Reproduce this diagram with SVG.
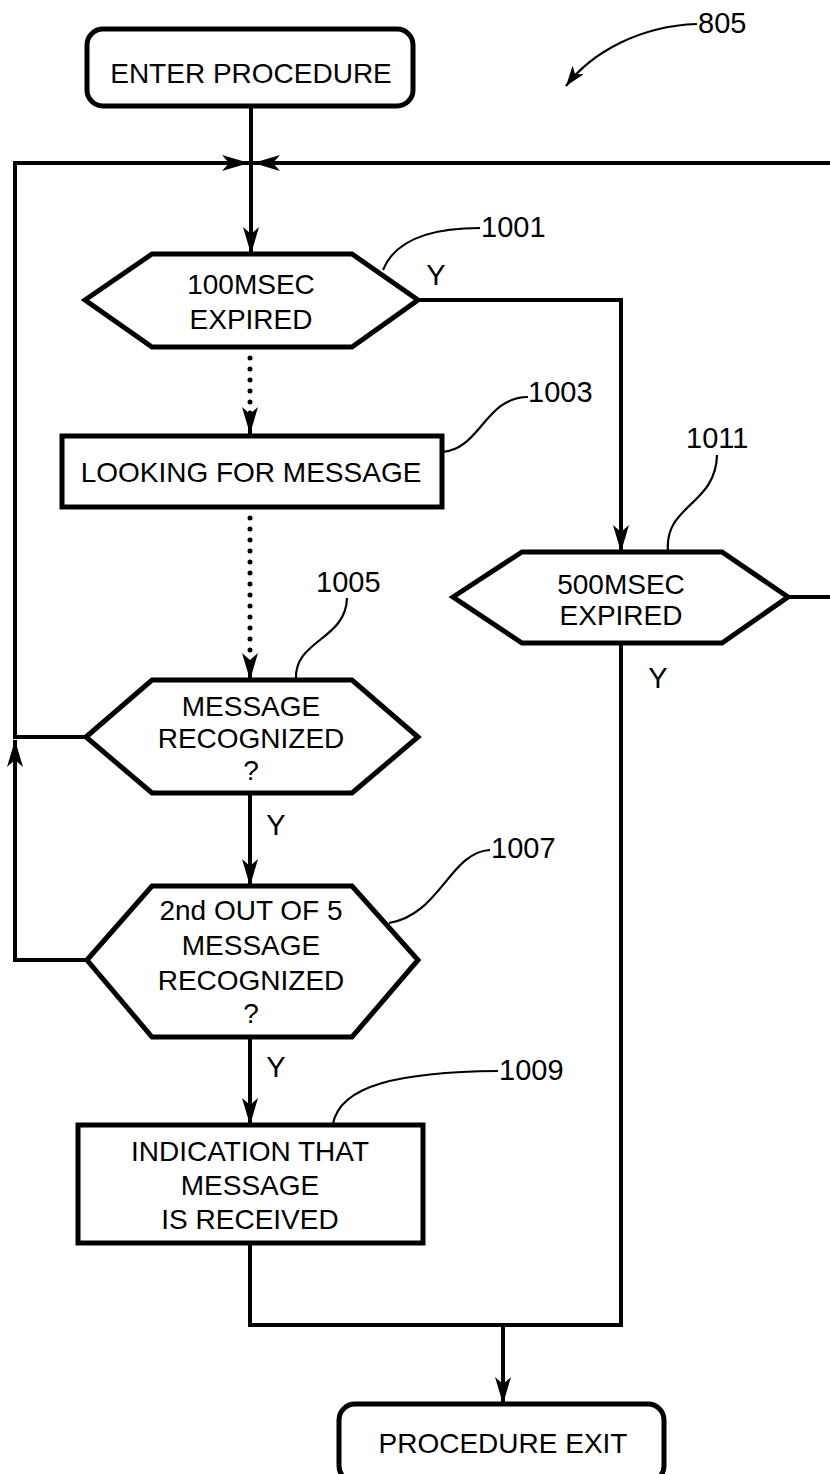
<svg xmlns="http://www.w3.org/2000/svg" width="830" height="1474" viewBox="0 0 830 1474">
<defs>
<style>
.shape{fill:#fff;stroke:#000;stroke-width:5;stroke-linejoin:miter}
.line{fill:none;stroke:#000;stroke-width:4}
.dot{fill:none;stroke:#000;stroke-width:5;stroke-linecap:round;stroke-dasharray:0 11}
.lead{fill:none;stroke:#000;stroke-width:2.2}
.t{font-family:"Liberation Sans",Arial,sans-serif;font-size:28px;fill:#000;text-anchor:middle}
.lbl{font-family:"Liberation Sans",Arial,sans-serif;font-size:29px;fill:#000}
</style>
<marker id="arr" markerUnits="userSpaceOnUse" markerWidth="30" markerHeight="18" viewBox="-28 -9 30 18" refX="0" refY="0" orient="auto">
<path d="M0,0 L-27,-8 L-20,0 L-27,8 Z" fill="#000"/>
</marker>
<marker id="arr2" markerUnits="userSpaceOnUse" markerWidth="24" markerHeight="18" viewBox="-22 -9 24 18" refX="0" refY="0" orient="auto">
<path d="M0,0 L-20,-7 L-15,0 L-20,7 Z" fill="#000"/>
</marker>
</defs>

<g id="connectors">
<path class="line" d="M251,106 L251,254" marker-end="url(#arr)"/>
<path class="line" d="M86,737 L15,737 L15,163 L249,163" marker-end="url(#arr)"/>
<path class="line" d="M788,597 L845,597 L845,163 L253,163" marker-end="url(#arr)"/>
<path class="line" d="M87,960 L15,960 L15,740" marker-end="url(#arr)"/>
<path class="line" d="M418,300 L621,300 L621,552" marker-end="url(#arr)"/>
<path class="dot" d="M250,358 L250,414"/>
<path class="line" d="M250,414 L250,434" marker-end="url(#arr)" stroke-width="0.1"/>
<path class="dot" d="M250,518 L250,660"/>
<path class="line" d="M250,660 L250,680" marker-end="url(#arr)" stroke-width="0.1"/>
<path class="line" d="M250,793 L250,886" marker-end="url(#arr)"/>
<path class="line" d="M250,1037 L250,1125" marker-end="url(#arr)"/>
<path class="line" d="M621,643 L621,1325 L503,1325"/>
<path class="line" d="M250,1243 L250,1325 L503,1325"/>
<path class="line" d="M503,1325 L503,1404" marker-end="url(#arr)"/>
</g>

<g id="ref805">
<path class="lead" d="M697,24 C640,26 592,52 566,86" marker-end="url(#arr2)"/>
<text class="lbl" x="698" y="33">805</text>
</g>

<g id="enter">
<rect class="shape" x="87" y="29" width="326" height="77" rx="16"/>
<text class="t" x="251" y="83">ENTER PROCEDURE</text>
</g>

<g id="n1001">
<polygon class="shape" points="85,300 152,254 352,254 418,300 352,347 152,347"/>
<text class="t" x="251" y="294">100MSEC</text>
<text class="t" x="251" y="329">EXPIRED</text>
<path class="lead" d="M383,270 C395,240 430,228 480,228"/>
<text class="lbl" x="481" y="237">1001</text>
<text class="lbl" x="436" y="285" text-anchor="middle">Y</text>
</g>

<g id="n1003">
<rect class="shape" x="62" y="436" width="380" height="71"/>
<text class="t" x="251" y="482">LOOKING FOR MESSAGE</text>
<path class="lead" d="M442,452 C480,450 485,397 528,397"/>
<text class="lbl" x="528" y="402">1003</text>
</g>

<g id="n1011">
<polygon class="shape" points="453,597 522,552 722,552 788,597 722,643 522,643"/>
<text class="t" x="621" y="594">500MSEC</text>
<text class="t" x="621" y="625">EXPIRED</text>
<path class="lead" d="M668,551 C664,505 716,505 717,455"/>
<text class="lbl" x="686" y="448">1011</text>
<text class="lbl" x="658" y="688" text-anchor="middle">Y</text>
</g>

<g id="n1005">
<polygon class="shape" points="86,737 152,680 352,680 418,737 352,793 152,793"/>
<text class="t" x="251" y="716">MESSAGE</text>
<text class="t" x="251" y="748">RECOGNIZED</text>
<text class="t" x="251" y="780">?</text>
<path class="lead" d="M296,679 C294,640 346,640 347,598"/>
<text class="lbl" x="316" y="592">1005</text>
<text class="lbl" x="276" y="835" text-anchor="middle">Y</text>
</g>

<g id="n1007">
<polygon class="shape" points="87,960 152,886 352,886 418,960 352,1037 152,1037"/>
<text class="t" x="251" y="920">2nd OUT OF 5</text>
<text class="t" x="251" y="955">MESSAGE</text>
<text class="t" x="251" y="990">RECOGNIZED</text>
<text class="t" x="251" y="1023">?</text>
<path class="lead" d="M389,923 C440,915 450,852 490,850"/>
<text class="lbl" x="491" y="858">1007</text>
<text class="lbl" x="276" y="1077" text-anchor="middle">Y</text>
</g>

<g id="n1009">
<rect class="shape" x="78" y="1125" width="345" height="118"/>
<text class="t" x="250" y="1161">INDICATION THAT</text>
<text class="t" x="250" y="1195">MESSAGE</text>
<text class="t" x="250" y="1229">IS RECEIVED</text>
<path class="lead" d="M333,1124 C340,1085 400,1072 498,1071"/>
<text class="lbl" x="499" y="1080">1009</text>
</g>

<g id="exit">
<rect class="shape" x="339" y="1404" width="325" height="78" rx="16"/>
<text class="t" x="503" y="1453">PROCEDURE EXIT</text>
</g>
</svg>
